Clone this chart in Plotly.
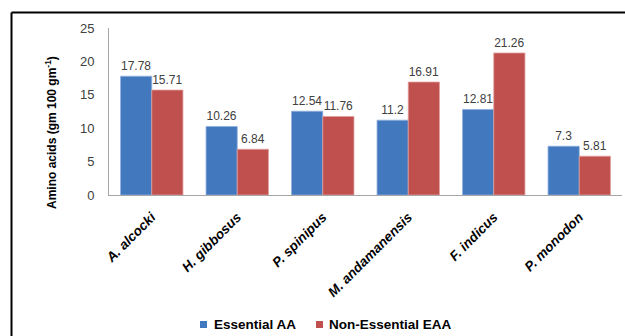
import plotly.graph_objects as go

species = ["A. alcocki", "H. gibbosus", "P. spinipus", "M. andamanensis", "F. indicus", "P. monodon"]
essential = [17.78, 10.26, 12.54, 11.2, 12.81, 7.3]
non_essential = [15.71, 6.84, 11.76, 16.91, 21.26, 5.81]
y_ticks = [0, 5, 10, 15, 20, 25]

series = [
    ("Essential AA", essential, "#4178BE", "#8FB0DD"),
    ("Non-Essential EAA", non_essential, "#C0504D", "#E0A09E"),
]

W, H = 625, 336
L, R, T, B = 109, 3, 28, 141
pw, ph = W - L - R, H - T - B

def px_x(p):
    return (p - L) / pw

def px_y(p):
    return (H - B - p) / ph

FONT = "Liberation Sans, Arial"
label_font = dict(family=FONT, size=12, color="#404040")

fig = go.Figure()
for name, vals, color, edge in series:
    fig.add_trace(go.Bar(
        x=species, y=vals, name=name, showlegend=False,
        marker=dict(color=color, line=dict(color=edge, width=0.8)),
        text=[f"{v:g}" for v in vals], textposition="outside",
        textfont=label_font, cliponaxis=False,
    ))

fig.update_layout(
    width=W, height=H,
    margin=dict(l=L, r=R, t=T, b=B),
    paper_bgcolor="white", plot_bgcolor="white",
    barmode="group", bargap=0.27, bargroupgap=0,
    showlegend=False,
    xaxis=dict(
        tickangle=-45,
        tickfont=dict(family=FONT, size=13.5, color="black",
                      weight="bold", style="italic"),
        showline=True, linecolor="#A6A6A6", linewidth=1,
        showgrid=False, ticks="", ticklabelstandoff=8,
    ),
    yaxis=dict(
        range=[0, 25], tickvals=y_ticks,
        tickfont=dict(family=FONT, size=13, color="#404040"),
        showline=True, linecolor="#A6A6A6", linewidth=1,
        showgrid=False, zeroline=False, ticks="", ticklabelstandoff=11,
    ),
    font=dict(family=FONT),
)

# Y-axis title placed as rotated annotation
fig.add_annotation(
    x=px_x(51), y=px_y(133), xref="paper", yref="paper",
    text="<b>Amino acids (gm 100 gm<sup>-1</sup>)</b>",
    textangle=-90, showarrow=False,
    font=dict(family=FONT, size=12, color="black"),
    xanchor="center", yanchor="middle",
)

# Legend: small square keys with bold labels below the axis
legend_items = [(series[0][0], series[0][2], 200, 212), (series[1][0], series[1][2], 316, 327)]
for name, color, key_x, text_x in legend_items:
    fig.add_shape(type="rect", xref="paper", yref="paper",
                  x0=px_x(key_x), x1=px_x(key_x + 7),
                  y0=px_y(321), y1=px_y(328),
                  fillcolor=color, line=dict(width=0))
    fig.add_annotation(
        x=px_x(text_x), y=px_y(324), xref="paper", yref="paper",
        text=f"<b>{name}</b>", showarrow=False,
        font=dict(family=FONT, size=13.5, color="black"),
        xanchor="left", yanchor="middle",
    )

# Frame lines (top and left edges)
fig.add_shape(type="line", xref="paper", yref="paper",
              x0=px_x(11.5), x1=px_x(W + 5), y0=px_y(12.5), y1=px_y(12.5),
              line=dict(color="black", width=2))
fig.add_shape(type="line", xref="paper", yref="paper",
              x0=px_x(11.5), x1=px_x(11.5), y0=px_y(12.5), y1=px_y(H + 5),
              line=dict(color="black", width=2))

fig.write_html("out.html")
